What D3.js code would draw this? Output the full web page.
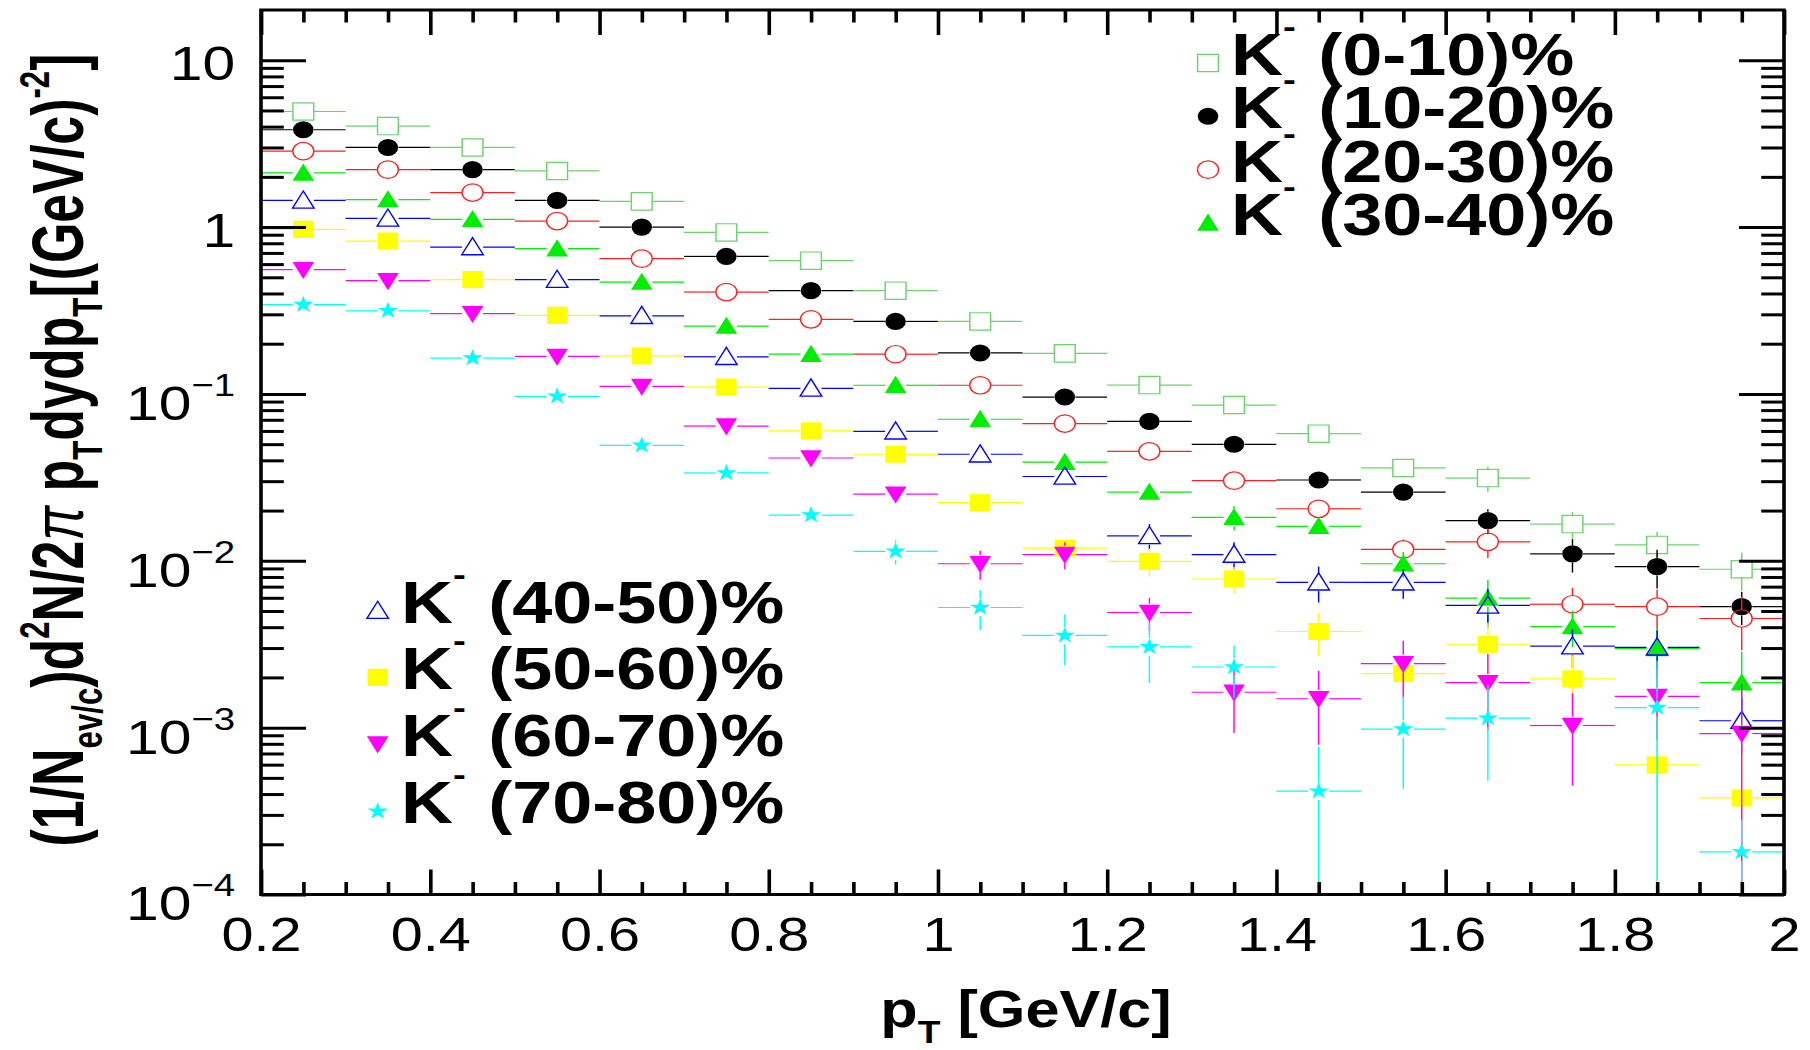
<!DOCTYPE html>
<html>
<head>
<meta charset="utf-8">
<script src="https://cdn.jsdelivr.net/npm/d3@7"></script>
<style>
  body { margin: 0; background: #fff; }
  svg { display: block; font-family: "Liberation Sans", Arial, Helvetica, sans-serif; }
</style>
</head>
<body>
<div id="holder"></div>
<script>
// pT bin centres [GeV/c] and the half width of each bin
var pT = [0.25, 0.35, 0.45, 0.55, 0.65, 0.75, 0.85, 0.95, 1.05, 1.15, 1.25, 1.35, 1.45, 1.55, 1.65, 1.75, 1.85, 1.95];
var binHalfWidth = 0.05;

var centralities = ['0-10', '10-20', '20-30', '30-40', '40-50', '50-60', '60-70', '70-80'];

// invariant yields, one array per centrality class (null = no point)
var yield0010 = [4.93, 4.03, 3.0, 2.17, 1.426, 0.929, 0.629, 0.416, 0.272, 0.175, 0.113, 0.0858, 0.0578, 0.036, 0.0313, 0.0166, 0.01245, 0.0089];
var yield1020 = [3.83, 3.0, 2.21, 1.445, 1.0, 0.667, 0.416, 0.272, 0.176, 0.0958, 0.0685, 0.0499, 0.0305, 0.0258, 0.0174, 0.011, 0.00923, 0.00531];
var yield2030 = [2.85, 2.21, 1.61, 1.086, 0.647, 0.408, 0.28, 0.173, 0.1127, 0.0664, 0.0453, 0.0302, 0.0205, 0.0117, 0.013, 0.00549, 0.00531, 0.00451];
var yield3040 = [2.11, 1.46, 1.112, 0.742, 0.468, 0.255, 0.173, 0.1127, 0.0705, 0.039, 0.0258, 0.0182, 0.0161, 0.0096, 0.00598, 0.00403, 0.00298, 0.00186];
var yield4050 = [1.445, 1.127, 0.759, 0.484, 0.294, 0.167, 0.108, 0.0597, 0.0435, 0.032, 0.0141, 0.0109, 0.00743, 0.00743, 0.0054, 0.00308, 0.00303, 0.0011];
var yield5060 = [0.969, 0.824, 0.484, 0.296, 0.169, 0.11, 0.06, 0.0435, 0.0223, 0.0119, 0.00993, 0.00778, 0.00377, 0.00211, 0.00316, 0.00196, 0.000598, 0.000379];
var yield6070 = [0.556, 0.477, 0.303, 0.168, 0.111, 0.0642, 0.0413, 0.0251, 0.0096, 0.0109, 0.0049, 0.00163, 0.00149, 0.00242, 0.00186, 0.00103, 0.00154, 0.000922];
var yield7080 = [0.343, 0.315, 0.164, 0.0968, 0.0492, 0.0336, 0.0188, 0.0114, 0.00525, 0.00357, 0.00305, 0.00231, 0.000416, 0.00098, 0.00114, null, 0.00132, 0.00018];

// statistical errors on the yields
var err0010 = [0.05, 0.04, 0.03, 0.02, 0.014, 0.01, 0.007, 0.005, 0.004, 0.003, 0.002, 0.002, 0.002, 0.002, 0.0055, 0.003, 0.0025, 0.0023];
var err1020 = [0.04, 0.03, 0.02, 0.015, 0.01, 0.007, 0.005, 0.003, 0.002, 0.0015, 0.001, 0.001, 0.001, 0.002, 0.003, 0.0025, 0.0024, 0.0012];
var err2030 = [0.03, 0.02, 0.016, 0.011, 0.007, 0.004, 0.003, 0.002, 0.0015, 0.001, 0.001, 0.001, 0.001, 0.0017, 0.0026, 0.0014, 0.0014, 0.0016];
var err3040 = [0.02, 0.015, 0.011, 0.008, 0.005, 0.003, 0.002, 0.0015, 0.001, 0.001, 0.001, 0.003, 0.0012, 0.0017, 0.0017, 0.001, 0.001, 0.001];
var err4050 = [0.015, 0.011, 0.008, 0.005, 0.003, 0.002, 0.0012, 0.001, 0.001, 0.001, 0.0025, 0.002, 0.0018, 0.0015, 0.0014, 0.0008, 0.0008, 0.0004];
var err5060 = [0.01, 0.008, 0.005, 0.003, 0.002, 0.0012, 0.001, 0.001, 0.001, 0.0015, 0.0019, 0.0014, 0.0011, 0.0003, 0.0011, 0.00075, 0.0007, 0.0005];
var err6070 = [0.006, 0.005, 0.003, 0.002, 0.0012, 0.001, 0.001, 0.001, 0.0019, 0.002, 0.0011, 0.0007, 0.0007, 0.0009, 0.0009, 0.00058, 0.0007, 0.0009];
var err7080 = [0.004, 0.003, 0.002, 0.0015, 0.001, 0.001, 0.0008, 0.0019, 0.0014, 0.0012, 0.0012, 0.0008, 0.00035, 0.00055, 0.00066, null, 0.0012, 0.0001];

var xTickValues = [0.2, 0.4, 0.6, 0.8, 1, 1.2, 1.4, 1.6, 1.8, 2];
var xTickLabels = ['0.2', '0.4', '0.6', '0.8', '1', '1.2', '1.4', '1.6', '1.8', '2'];
var yTickValues = [1e-4, 1e-3, 1e-2, 1e-1, 1, 10];
var yTickBases = ['10', '10', '10', '10', '1', '10'];
var yTickExps = ['\u22124', '\u22123', '\u22122', '\u22121', '', ''];

var yields = [yield0010, yield1020, yield2030, yield3040, yield4050, yield5060, yield6070, yield7080];
var errors = [err0010, err1020, err2030, err3040, err4050, err5060, err6070, err7080];

// marker styles (ROOT-like)
var styles = [
  {color: '#6bd36b', type: d3.symbolSquare, size: 300, open: true},
  {color: '#000000', type: d3.symbolCircle, size: 230, open: false},
  {color: '#ff2020', type: d3.symbolCircle, size: 240, open: true},
  {color: '#00ee00', type: d3.symbolTriangle, size: 140, open: false},
  {color: '#0000ff', type: d3.symbolTriangle, size: 140, open: true},
  {color: '#ffff00', type: d3.symbolSquare, size: 290, open: false},
  {color: '#ff00ff', type: d3.symbolTriangle, size: 140, open: false, down: true},
  {color: '#00ffff', type: d3.symbolStar, size: 90, open: false}
];

// the reference canvas is stretched horizontally
var SX = 1.2;
var fullWidth = 1810;
var fullHeight = 1050;
var plotLeft = 261 / SX, plotRight = 1784 / SX, plotTop = 10, plotBottom = 894.5;

var svg = d3.select('#holder').append('svg')
  .attr('width', fullWidth)
  .attr('height', fullHeight);

var g = svg.append('g')
  .attr('transform', 'scale(' + SX + ',1)');

var x = d3.scaleLinear().domain([0.2, 2]).range([plotLeft, plotRight]);
var y = d3.scaleLog().domain([1e-4, 20]).range([plotBottom, plotTop]);

g.append('clipPath').attr('id', 'frame-clip')
  .append('rect')
  .attr('x', plotLeft).attr('y', plotTop)
  .attr('width', plotRight - plotLeft).attr('height', plotBottom - plotTop);

// data
var plot = g.append('g').attr('clip-path', 'url(#frame-clip)');
var gap = 8.8;

function markerPath(st) {
  return d3.symbol().type(st.type).size(st.size)();
}
function markerTransform(st, cx, cy) {
  var t = 'translate(' + cx + ',' + cy + ')';
  if (st.type === d3.symbolTriangle) {
    t += st.down ? ' translate(0,-2) rotate(180) scale(1,1.1)' : ' translate(0,2) scale(1,1.1)';
  }
  return t;
}

yields.forEach(function(vals, si) {
  var st = styles[si];
  var pts = [];
  vals.forEach(function(v, i) {
    if (v !== null) pts.push({pt: pT[i], v: v, e: errors[si][i]});
  });

  var segs = [];
  pts.forEach(function(d) {
    var cx = x(d.pt), cy = y(d.v);
    segs.push([x(d.pt - binHalfWidth), cy, cx - gap, cy]);
    segs.push([cx + gap, cy, x(d.pt + binHalfWidth), cy]);
    var yt = y(d.v + d.e);
    var yb = d.v - d.e > 0 ? y(d.v - d.e) : plotBottom + 20;
    if (yt < cy - gap) segs.push([cx, cy - gap, cx, yt]);
    if (yb > cy + gap) segs.push([cx, cy + gap, cx, yb]);
  });

  var sg = plot.append('g').classed('series', true);
  sg.selectAll('line.err')
      .data(segs)
    .enter().append('line')
      .classed('err', true)
      .attr('x1', function(s) { return s[0]; })
      .attr('y1', function(s) { return s[1]; })
      .attr('x2', function(s) { return s[2]; })
      .attr('y2', function(s) { return s[3]; })
      .attr('stroke', st.color)
      .attr('stroke-width', 1.2);

  sg.selectAll('path.marker')
      .data(pts)
    .enter().append('path')
      .classed('marker', true)
      .attr('d', markerPath(st))
      .attr('transform', function(d) { return markerTransform(st, x(d.pt), y(d.v)); })
      .attr('fill', st.open ? 'none' : st.color)
      .attr('stroke', st.open ? st.color : 'none')
      .attr('stroke-width', 1.2);
});

// axes: ticks on all four sides, pointing inwards
function styleAxis(sel) {
  sel.select('.domain').remove();
  sel.selectAll('line').attr('stroke', '#000').attr('stroke-width', 3);
}
var xMinor = x.ticks(36).filter(function(t) { return xTickValues.indexOf(+t.toFixed(2)) < 0; });
var yMinor = y.ticks().filter(function(t) {
  var l = Math.log10(t);
  return Math.abs(l - Math.round(l)) > 1e-6 && t < 20;
});

g.append('g').attr('transform', 'translate(0,' + plotBottom + ')')
  .call(d3.axisBottom(x).tickValues(xTickValues).tickSize(-25).tickPadding(22.4)
    .tickFormat(function(d, i) { return xTickLabels[i]; }))
  .call(styleAxis)
  .selectAll('text')
    .attr('font-size', 48)
    .attr('font-family', '"Liberation Sans", Arial, sans-serif')
    .attr('fill', '#000');
g.append('g').attr('transform', 'translate(0,' + plotBottom + ')')
  .call(d3.axisBottom(x).tickValues(xMinor).tickSize(-12.5).tickFormat(''))
  .call(styleAxis);
g.append('g').attr('transform', 'translate(0,' + plotTop + ')')
  .call(d3.axisTop(x).tickValues(xTickValues).tickSize(-25).tickFormat(''))
  .call(styleAxis);
g.append('g').attr('transform', 'translate(0,' + plotTop + ')')
  .call(d3.axisTop(x).tickValues(xMinor).tickSize(-12.5).tickFormat(''))
  .call(styleAxis);

g.append('g').attr('transform', 'translate(' + plotLeft + ',0)')
  .call(d3.axisLeft(y).tickValues(yTickValues).tickSize(-37.5).tickFormat(''))
  .call(styleAxis);
g.append('g').attr('transform', 'translate(' + plotLeft + ',0)')
  .call(d3.axisLeft(y).tickValues(yMinor).tickSize(-19).tickFormat(''))
  .call(styleAxis);
g.append('g').attr('transform', 'translate(' + plotRight + ',0)')
  .call(d3.axisRight(y).tickValues(yTickValues).tickSize(-37.5).tickFormat(''))
  .call(styleAxis);
g.append('g').attr('transform', 'translate(' + plotRight + ',0)')
  .call(d3.axisRight(y).tickValues(yMinor).tickSize(-19).tickFormat(''))
  .call(styleAxis);

// frame
g.append('rect')
  .attr('x', plotLeft).attr('y', plotTop)
  .attr('width', plotRight - plotLeft).attr('height', plotBottom - plotTop)
  .attr('fill', 'none').attr('stroke', '#000').attr('stroke-width', 3);

// y tick labels with exponents
yTickValues.forEach(function(v, i) {
  var t = g.append('text')
    .attr('x', 196)
    .attr('y', y(v) + (yTickExps[i] ? 26 : 19.5))
    .attr('text-anchor', 'end')
    .attr('font-size', 49);
  t.append('tspan').text(yTickBases[i]);
  if (yTickExps[i]) {
    t.append('tspan').attr('font-size', 32).attr('dy', -24).text(yTickExps[i]);
  }
});

// axis titles
var xt = g.append('text')
  .attr('x', 855).attr('y', 1027)
  .attr('text-anchor', 'middle')
  .attr('font-weight', 'bold')
  .attr('font-size', 51);
xt.append('tspan').text('p');
xt.append('tspan').attr('font-size', 31).attr('dy', 16).text('T');
xt.append('tspan').attr('dy', -16).text(' [GeV/c]');

var yt = g.append('text')
  .attr('transform', 'translate(69,450) rotate(-90)')
  .attr('text-anchor', 'middle')
  .attr('font-weight', 'bold')
  .attr('font-size', 60)
  .attr('textLength', 793)
  .attr('lengthAdjust', 'spacingAndGlyphs');
var yParts = [
  ['(1/N', 0, null], ['ev/c', 16, 36], [')d', -16, null], ['2', -28, 36], ['N/2', 28, null],
  ['\u03c0', 0, null], [' p', 0, null], ['T', 16, 36], ['dydp', -16, null], ['T', 16, 36],
  ['[(GeV/c)', -16, null], ['-2', -28, 36], [']', 28, null]
];
yParts.forEach(function(p) {
  var s = yt.append('tspan').attr('dy', p[1]).text(p[0]);
  if (p[2]) s.attr('font-size', p[2]);
  if (p[0] === '\u03c0') s.attr('font-weight', 'normal').attr('font-style', 'italic');
});

// legends
function legend(indices, markerX, textX, baselines) {
  indices.forEach(function(si, k) {
    var st = styles[si];
    var by = baselines[k];
    g.append('path')
      .attr('d', markerPath(st))
      .attr('transform', markerTransform(st, markerX, by - 12))
      .attr('fill', st.open ? 'none' : st.color)
      .attr('stroke', st.open ? st.color : 'none')
      .attr('stroke-width', 1.2);
    var t = g.append('text')
      .attr('x', textX).attr('y', by)
      .attr('font-weight', 'bold')
      .attr('font-size', 60);
    t.append('tspan').text('K');
    t.append('tspan').attr('font-size', 32).attr('dy', -38).text('-');
    t.append('tspan').attr('dy', 38).attr('dx', 2).text(' (' + centralities[si] + ')%');
  });
}
legend([0, 1, 2, 3], 1208 / SX, 1231 / SX, [75, 128.3, 181.7, 235]);
legend([4, 5, 6, 7], 377.7 / SX, 401 / SX, [622.7, 689.3, 756, 823.3]);
</script>
</body>
</html>
